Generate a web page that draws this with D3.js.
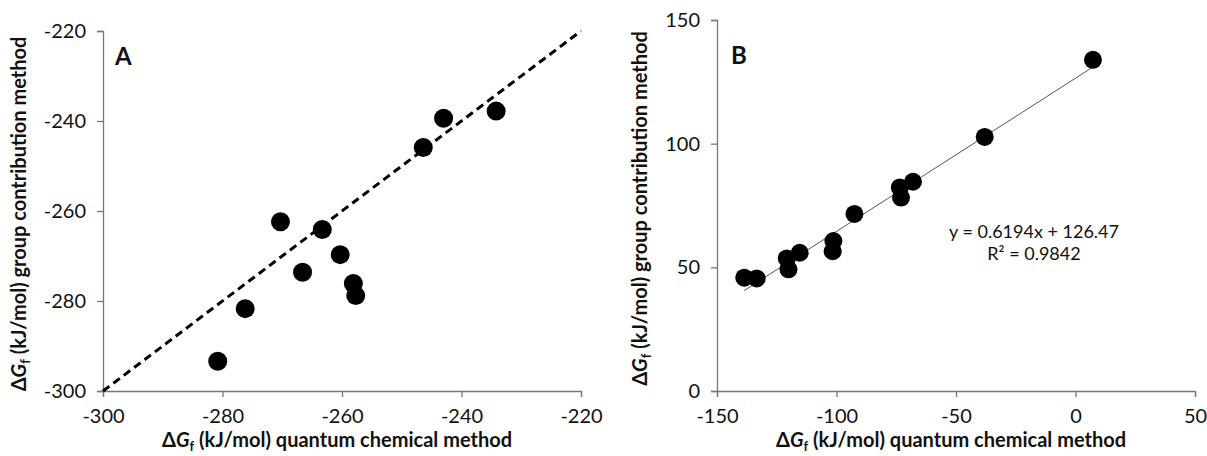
<!DOCTYPE html>
<meta charset="utf-8">
<script src="https://d3js.org/d3.v7.min.js"></script>
<style>
  body { margin: 0; background: #fff; }
  text { font-family: Lato, "Open Sans", sans-serif; fill: #111; }
  .tick text { font-size: 20px; }
  .axis-title { font-size: 20px; font-weight: bold; }
  .panel-label { font-size: 24px; font-weight: bold; }
</style>
<div id="chart"></div>
<script>
// Panel A: values
var aQuantum = [-280.8, -276.2, -270.3, -266.6, -263.3, -260.3, -258.1, -257.7, -246.4, -243.0, -234.2];
var aGroup   = [-293.4, -281.7, -262.4, -273.6, -264.1, -269.7, -276.1, -278.8, -245.9, -239.4, -237.8];
var aTicks   = [-300, -280, -260, -240, -220];

// Panel B
var bQuantum = [-138.6, -133.4, -120.8, -120.1, -115.4, -101.3, -101.6, -92.5, -73.5, -73.0, -68.0, -38.0, 7.3];
var bGroup   = [45.8, 45.5, 53.6, 49.2, 55.9, 60.6, 56.5, 71.6, 82.3, 78.2, 84.6, 102.7, 133.9];
var bXTicks  = [-150, -100, -50, 0, 50];
var bYTicks  = [0, 50, 100, 150];
var trendSlope = 0.6194, trendIntercept = 126.47, rSquared = 0.9842;

var svg = d3.select("#chart").append("svg")
  .attr("width", 1207)
  .attr("height", 456);

// plain hyphen minus like the original, not the unicode minus d3.format gives
var plain = function(d) { return String(d); };

function axisTitle(g, x, y, rotate, rest) {
  var t = g.append("text")
    .attr("class", "axis-title")
    .attr("text-anchor", "middle")
    .attr("transform", "translate(" + x + "," + y + ")" + (rotate ? " rotate(-90)" : ""));
  t.append("tspan").text("\u0394");
  t.append("tspan").attr("font-style", "italic").text("G");
  t.append("tspan").attr("font-size", "13px").attr("dy", 4).text("f");
  t.append("tspan").attr("dy", -4).text(" " + rest);
}

function drawPanel(p) {
  var x = d3.scaleLinear().domain(p.xDomain).range([p.left, p.right]);
  var y = d3.scaleLinear().domain(p.yDomain).range([p.bottom, p.top]);
  var g = svg.append("g");

  var xAxis = g.append("g")
    .attr("transform", "translate(0," + p.bottom + ")")
    .call(d3.axisBottom(x).tickValues(p.xTicks).tickSize(6).tickPadding(12).tickFormat(plain));
  var yAxis = g.append("g")
    .attr("transform", "translate(" + p.left + ",0)")
    .call(d3.axisLeft(y).tickValues(p.yTicks).tickSize(6).tickPadding(11).tickFormat(plain));
  [xAxis, yAxis].forEach(function(a) {
    a.select(".domain").attr("stroke", "#777").attr("stroke-width", 1.3);
    a.selectAll(".tick line").attr("stroke", "#777").attr("stroke-width", 1.3);
    a.selectAll(".tick text").attr("fill", "#111");
  });

  p.extra(g, x, y);

  g.selectAll("circle.dot")
    .data(p.xs)
    .enter().append("circle")
    .attr("class", "dot")
    .attr("cx", function(d) { return x(d); })
    .attr("cy", function(d, i) { return y(p.ys[i]); })
    .attr("r", p.r)
    .attr("fill", "#000");

  g.append("text").attr("class", "panel-label")
    .attr("x", p.left + p.labelDx).attr("y", p.top + p.labelDy)
    .text(p.label);

  axisTitle(g, (p.left + p.right) / 2 - 5, 447, false, "(kJ/mol) quantum chemical method");
  axisTitle(g, p.yTitleX, (p.top + p.bottom) / 2 + 3, true, "(kJ/mol) group contribution method");
}

// Panel A
drawPanel({
  xDomain: [-300, -220], yDomain: [-300, -220],
  left: 103, right: 581, top: 31, bottom: 391,
  xTicks: aTicks, yTicks: aTicks,
  xs: aQuantum, ys: aGroup, r: 9.5,
  label: "A", labelDx: 12, labelDy: 34,
  yTitleX: 26,
  extra: function(g, x, y) {
    // 1:1 reference line
    g.append("line")
      .attr("x1", x(-300)).attr("y1", y(-300))
      .attr("x2", x(-220)).attr("y2", y(-220))
      .attr("stroke", "#000").attr("stroke-width", 3)
      .attr("stroke-dasharray", "8,5");
  }
});

// Panel B
drawPanel({
  xDomain: [-150, 50], yDomain: [0, 150],
  left: 717, right: 1195, top: 20, bottom: 391,
  xTicks: bXTicks, yTicks: bYTicks,
  xs: bQuantum, ys: bGroup, r: 9,
  label: "B", labelDx: 14, labelDy: 44,
  yTitleX: 647,
  extra: function(g, x, y) {
    var x0 = d3.min(bQuantum), x1 = d3.max(bQuantum);
    g.append("line")
      .attr("x1", x(x0)).attr("y1", y(trendSlope * x0 + trendIntercept))
      .attr("x2", x(x1)).attr("y2", y(trendSlope * x1 + trendIntercept))
      .attr("stroke", "#555").attr("stroke-width", 1);
    var eq = g.append("text")
      .attr("text-anchor", "middle")
      .attr("font-size", "18px");
    eq.append("tspan").attr("x", 1034).attr("y", 238)
      .text("y = " + trendSlope + "x + " + trendIntercept);
    eq.append("tspan").attr("x", 1034).attr("y", 260)
      .text("R\u00b2 = " + rSquared);
  }
});
</script>
